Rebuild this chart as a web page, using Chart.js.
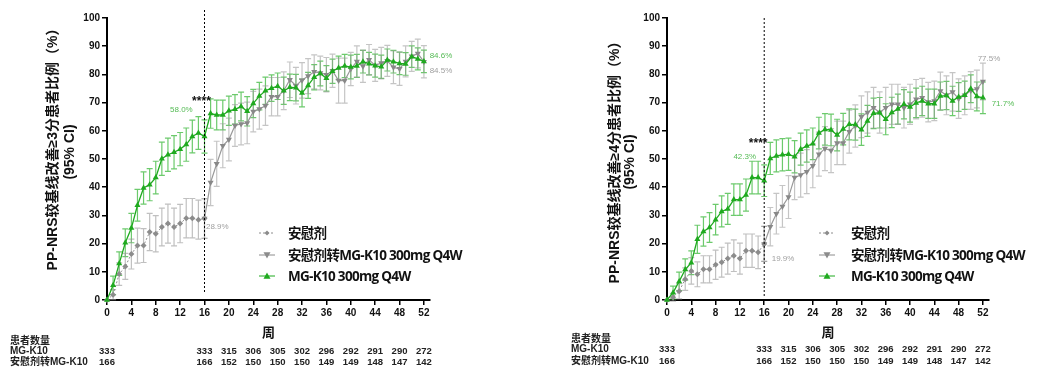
<!DOCTYPE html>
<html>
<head>
<meta charset="utf-8">
<script src="https://cdn.jsdelivr.net/npm/chart.js@4.4.0/dist/chart.umd.min.js"></script>
<style>
  html, body { margin: 0; padding: 0; background: #fff; }
  #wrap { position: relative; width: 1038px; height: 376px; overflow: hidden; }
  canvas { position: absolute; top: 0; }
</style>
</head>
<body>
<div id="wrap">
  <canvas id="chart3" width="520" height="376" style="left:0"></canvas>
  <canvas id="chart4" width="518" height="376" style="left:520px"></canvas>
</div>
<script>
// weeks
const weeksPlacebo = [0,1,2,3,4,5,6,7,8,9,10,11,12,13,14,15,16];
const weeksSwitch = [16,17,18,19,20,21,22,23,24,25,26,27,28,29,30,31,32,33,34,35,36,37,38,39,40,41,42,43,44,45,46,47,48,49,50,51,52];
const weeksAll = [0,1,2,3,4,5,6,7,8,9,10,11,12,13,14,15,16,17,18,19,20,21,22,23,24,25,26,27,28,29,30,31,32,33,34,35,36,37,38,39,40,41,42,43,44,45,46,47,48,49,50,51,52];
const xTicks = [0,4,8,12,16,20,24,28,32,36,40,44,48,52];

// number at risk table
const tableWeeks = [0,16,20,24,28,32,36,40,44,48,52];
const nMG = [333,333,315,306,305,302,296,292,291,290,272];
const nSwitch = [166,166,152,150,150,150,149,149,148,147,142];

// left panel: >=3 point improvement (%)
const mg3 = [0,5.2,12.9,20.3,25.5,33.6,39.7,40.9,43.4,50.1,51.5,52.4,53.5,55.1,58.0,59.2,58.0,66.1,65.6,65.6,67.1,67.6,68.6,66.9,69.7,72.3,74.2,75.1,75.8,74.2,75.4,75.3,73.4,76.1,79.0,80.3,78.6,81.1,82.3,83.0,82.6,83.0,84.5,83.8,83.1,82.7,85.1,84.5,83.9,83.7,86.3,85.5,84.6];
const mg3Ci = [0,3.3,4.2,4.9,5.2,5.6,5.7,5.7,5.8,5.9,5.9,5.9,5.9,5.9,5.8,5.8,5.9,5.2,5.3,5.3,5.2,5.2,5.1,5.2,5.0,4.9,4.8,4.7,4.7,4.8,4.7,4.7,4.9,4.6,4.5,4.4,4.5,4.3,4.2,4.1,4.2,4.1,4.0,4.0,4.1,4.1,3.9,4.0,4.0,4.0,3.8,3.9,4.0];
const placebo3 = [0,1.9,9.2,11.9,16.3,19.3,19.3,24.1,23.5,25.9,27.1,25.9,27.1,29.0,29.0,28.5,28.9];
const placebo3Ci = [0,1.8,4.0,4.6,5.3,6.2,6.0,6.6,6.4,6.7,6.9,6.7,6.8,7.0,7.0,6.9,7.0];
const switch3 = [28.9,41.7,48.3,54.7,56.9,61.9,62.4,62.8,66.8,67.7,68.9,72.1,72.1,74.2,78.1,76.0,77.9,79.4,80.9,80.5,79.9,81.3,77.8,77.8,81.9,84.6,82.9,85.2,83.2,84.0,84.8,82.5,82.0,84.6,86.4,87.4,84.5];
const switch3Ci = [7.0,8.2,8.0,7.8,7.6,7.4,7.4,7.4,7.2,7.1,7.0,6.8,6.8,6.7,6.3,6.5,6.3,6.2,6.0,6.0,6.1,5.9,8.0,8.0,5.9,5.5,5.7,5.4,5.7,5.6,5.5,5.8,5.9,5.5,5.3,5.1,5.7];

// right panel: >=4 point improvement (%)
const mg4 = [0,2.6,6.6,10.8,13.2,21.5,24.3,25.7,28.5,31.4,32.3,35.6,35.6,37.2,43.4,43.4,42.3,50.2,51.1,51.5,51.7,50.8,53.5,54.6,55.4,59.2,60.5,60.3,58.5,60.6,62.3,62.2,60.4,63.5,66.2,66.4,64.1,66.5,67.7,69.4,68.4,69.9,70.6,69.6,69.6,72.3,72.5,70.6,72.0,72.6,74.9,72.2,71.7];
const mg4Ci = [0,2.3,3.3,3.8,4.2,5.0,5.2,5.3,5.4,5.5,5.5,5.6,5.6,5.7,5.8,5.8,5.6,5.7,5.7,5.7,5.7,5.7,5.7,5.7,5.6,5.6,5.6,5.6,5.6,5.6,5.5,5.5,5.6,5.5,5.4,5.4,5.5,5.4,5.3,5.2,5.3,5.2,5.2,5.2,5.2,5.0,5.0,5.2,5.1,5.0,4.9,5.1,5.6];
const placebo4 = [0,1.0,3.1,7.4,10.3,9.1,10.9,10.9,12.5,13.4,14.7,15.7,14.7,17.5,17.5,16.9,19.9];
const placebo4Ci = [0,1.4,2.7,4.0,4.7,4.4,4.8,4.8,5.2,5.3,5.5,5.6,5.5,5.9,5.9,5.8,6.2];
const switch4 = [19.9,26.0,30.6,33.2,36.5,43.4,44.3,45.5,47.6,51.7,53.7,53.0,55.7,55.7,59.7,61.7,65.0,66.5,68.2,66.5,68.2,69.4,69.4,68.2,69.4,71.2,71.7,70.2,70.6,74.1,72.6,73.8,71.4,72.6,74.3,74.8,77.5];
const switch4Ci = [6.2,6.8,7.2,7.4,7.6,7.8,7.8,7.8,7.8,7.8,7.8,7.8,7.7,7.7,7.6,7.5,7.4,7.3,7.2,7.3,7.2,7.1,7.1,7.2,7.1,7.0,6.9,7.0,7.0,6.7,6.9,6.8,7.0,6.9,6.7,6.7,6.5];

const tickFont = '"Liberation Sans", Arial, "Noto Sans CJK SC", sans-serif';
const cjkFont = '"Open Sans", "Noto Sans CJK SC", sans-serif';
const GREEN = '#1faa1f';
const GREY = '#8c8c8c';

function toPoints(xs, ys) {
  return ys.map((v, i) => ({ x: xs[i], y: v }));
}

function drawMarker(ctx, style, x, y, r, color) {
  ctx.save();
  ctx.fillStyle = color;
  ctx.beginPath();
  if (style === 'rectRot') {
    ctx.moveTo(x, y - r); ctx.lineTo(x + r, y); ctx.lineTo(x, y + r); ctx.lineTo(x - r, y);
  } else if (style === 'up') {
    ctx.moveTo(x, y - r); ctx.lineTo(x + r, y + r * 0.8); ctx.lineTo(x - r, y + r * 0.8);
  } else {
    ctx.moveTo(x, y + r); ctx.lineTo(x + r, y - r * 0.8); ctx.lineTo(x - r, y - r * 0.8);
  }
  ctx.closePath();
  ctx.fill();
  ctx.restore();
}

const errorBars = {
  id: 'errorBars',
  beforeDatasetsDraw(chart) {
    const { ctx, scales: { x, y } } = chart;
    chart.data.datasets.forEach(ds => {
      if (!ds.ci) return;
      ctx.save();
      ctx.strokeStyle = ds.ciColor;
      ctx.lineWidth = 1.2;
      ds.data.forEach((pt, j) => {
        const h = ds.ci[j];
        if (!h) return;
        const px = x.getPixelForValue(pt.x);
        const t = y.getPixelForValue(pt.y + h);
        const b = y.getPixelForValue(pt.y - h);
        ctx.beginPath();
        ctx.moveTo(px, t); ctx.lineTo(px, b);
        ctx.moveTo(px - 3, t); ctx.lineTo(px + 3, t);
        ctx.moveTo(px - 3, b); ctx.lineTo(px + 3, b);
        ctx.stroke();
      });
      ctx.restore();
    });
  }
};

function makeDeco(p) {
  return {
    id: 'deco',
    afterDraw(chart) {
      const { ctx, scales: { x, y }, chartArea } = chart;
      ctx.save();
      // week 16 dashed line
      const x16 = x.getPixelForValue(16);
      ctx.strokeStyle = '#000';
      ctx.lineWidth = 1;
      ctx.setLineDash([2, 2]);
      ctx.beginPath();
      ctx.moveTo(x16, chartArea.top + p.dashTop);
      ctx.lineTo(x16, chartArea.bottom - p.dashBottom);
      ctx.stroke();
      ctx.setLineDash([]);

      // labels on the plot
      ctx.textAlign = 'center';
      ctx.textBaseline = 'middle';
      p.notes.forEach(n => {
        ctx.font = n.font;
        ctx.fillStyle = n.color;
        ctx.fillText(n.text, x.getPixelForValue(n.wk), y.getPixelForValue(n.val));
      });

      // y title
      ctx.fillStyle = '#111';
      ctx.font = 'bold 14px ' + tickFont;
      p.yTitle.forEach(t => {
        ctx.save();
        ctx.translate(t.x, t.y);
        ctx.rotate(-Math.PI / 2);
        ctx.fillText(t.text, 0, 0);
        ctx.restore();
      });

      // legend
      const items = [
        { text: '安慰剂', color: GREY, style: 'rectRot', dash: [2, 2], r: 2.5 },
        { text: '安慰剂转MG-K10 300mg Q4W', color: GREY, style: 'down', dash: [], r: 3.5 },
        { text: 'MG-K10 300mg Q4W', color: GREEN, style: 'up', dash: [], r: 3.5 }
      ];
      items.forEach((it, i) => {
        const ly = p.legend.y[i];
        ctx.strokeStyle = it.color;
        ctx.lineWidth = 1;
        ctx.setLineDash(it.dash);
        ctx.beginPath();
        ctx.moveTo(p.legend.x - 8, ly);
        ctx.lineTo(p.legend.x + 8, ly);
        ctx.stroke();
        ctx.setLineDash([]);
        drawMarker(ctx, it.style, p.legend.x, ly, it.r, it.color);
        ctx.save();
        ctx.fillStyle = '#111';
        ctx.font = 'bold 13.5px ' + cjkFont;
        ctx.letterSpacing = '-0.7px';
        ctx.textAlign = 'left';
        ctx.fillText(it.text, p.legend.textX, ly + 1);
        ctx.restore();
      });

      // number at risk
      ctx.fillStyle = '#222';
      ctx.textAlign = 'left';
      ctx.font = 'bold 10px ' + tickFont;
      ctx.fillText('患者数量', p.table.x, p.table.y[0]);
      ctx.fillText('MG-K10', p.table.x, p.table.y[1]);
      ctx.fillText('安慰剂转MG-K10', p.table.x, p.table.y[2]);
      ctx.textAlign = 'center';
      ctx.font = 'bold 9.5px ' + tickFont;
      tableWeeks.forEach((w, i) => {
        const px = x.getPixelForValue(w);
        ctx.fillText(String(nMG[i]), px, p.table.y[1]);
        ctx.fillText(String(nSwitch[i]), px, p.table.y[2]);
      });
      ctx.restore();
    }
  };
}

function buildChart(id, p) {
  const datasets = [
    {
      label: 'MG-K10 300mg Q4W',
      data: toPoints(weeksAll, p.mg),
      ci: p.mgCi, ciColor: 'rgba(45,180,45,0.7)',
      borderColor: GREEN, backgroundColor: GREEN, borderWidth: 1.3,
      pointStyle: 'triangle', pointRadius: 3.5, pointBorderWidth: 0,
      order: 0, clip: false
    },
    {
      label: '安慰剂转MG-K10 300mg Q4W',
      data: toPoints(weeksSwitch, p.sw),
      ci: p.swCi, ciColor: 'rgba(150,150,150,0.55)',
      borderColor: '#999', backgroundColor: '#888', borderWidth: 1.2,
      pointStyle: 'triangle', pointRotation: 180, pointRadius: 3.5, pointBorderWidth: 0,
      order: 1, clip: false
    },
    {
      label: '安慰剂',
      data: toPoints(weeksPlacebo, p.pl),
      ci: p.plCi, ciColor: 'rgba(150,150,150,0.6)',
      borderColor: GREY, backgroundColor: GREY, borderWidth: 1, borderDash: [2, 2],
      pointStyle: 'rectRot', pointRadius: 3, pointBorderWidth: 0,
      order: 2, clip: false
    }
  ];

  return new Chart(document.getElementById(id), {
    type: 'line',
    data: { datasets },
    options: {
      responsive: false,
      animation: false,
      devicePixelRatio: 1,
      layout: { padding: { left: 0, right: p.padRight, top: 18, bottom: 34 } },
      plugins: { legend: { display: false }, tooltip: { enabled: false } },
      scales: {
        x: {
          type: 'linear', min: 0, max: 53,
          afterFit: s => { s.height = 42; },
          afterBuildTicks: s => { s.ticks = xTicks.map(v => ({ value: v })); },
          grid: { display: true, drawOnChartArea: false, drawTicks: true, tickLength: 5, color: '#000', lineWidth: 1.5 },
          border: { display: true, color: '#000', width: 2 },
          ticks: { padding: 2, color: '#111', font: { family: tickFont, size: 10, weight: 'bold' }, maxRotation: 0, autoSkip: false },
          title: { display: true, text: '周', color: '#111', font: { family: cjkFont, size: 13, weight: 'bold' }, padding: { top: 0, bottom: 1 } }
        },
        y: {
          min: 0, max: 100,
          afterFit: s => { s.width = p.axisX; },
          grid: { display: true, drawOnChartArea: false, drawTicks: true, tickLength: 5, color: '#000', lineWidth: 1.5 },
          border: { display: true, color: '#000', width: 2 },
          ticks: { stepSize: 10, padding: 2, color: '#111', font: { family: tickFont, size: 10, weight: 'bold' } }
        }
      }
    },
    plugins: [errorBars, makeDeco(p)]
  });
}

buildChart('chart3', {
  mg: mg3, mgCi: mg3Ci, pl: placebo3, plCi: placebo3Ci, sw: switch3, swCi: switch3Ci,
  axisX: 107, padRight: 90,
  dashTop: -8, dashBottom: 7,
  yTitle: [
    { text: 'PP-NRS较基线改善≥3分患者比例（%）', x: 53, y: 146 },
    { text: '(95% CI)', x: 70, y: 152 }
  ],
  notes: [
    { text: '****', wk: 15.5, val: 70.2, color: '#111', font: 'bold 12px ' + tickFont },
    { text: '58.0%', wk: 12.2, val: 67.4, color: '#55bb55', font: '8px ' + tickFont },
    { text: '28.9%', wk: 18.1, val: 25.9, color: '#a0a0a0', font: '8px ' + tickFont },
    { text: '84.6%', wk: 54.8, val: 86.5, color: '#55bb55', font: '8px ' + tickFont },
    { text: '84.5%', wk: 54.8, val: 81.2, color: '#a0a0a0', font: '8px ' + tickFont }
  ],
  legend: { x: 267, textX: 288, y: [233, 255, 276] },
  table: { x: 10, y: [341, 351, 362] }
});

buildChart('chart4', {
  mg: mg4, mgCi: mg4Ci, pl: placebo4, plCi: placebo4Ci, sw: switch4, swCi: switch4Ci,
  axisX: 147, padRight: 49,
  dashTop: 0, dashBottom: 3,
  yTitle: [
    { text: 'PP-NRS较基线改善≥4分患者比例（%）', x: 95, y: 159 },
    { text: '(95% CI)', x: 110, y: 162 }
  ],
  notes: [
    { text: '****', wk: 15.0, val: 55.6, color: '#111', font: 'bold 12px ' + tickFont },
    { text: '42.3%', wk: 12.8, val: 50.7, color: '#55bb55', font: '8px ' + tickFont },
    { text: '19.9%', wk: 19.1, val: 14.5, color: '#a0a0a0', font: '8px ' + tickFont },
    { text: '77.5%', wk: 53.0, val: 85.5, color: '#a0a0a0', font: '8px ' + tickFont },
    { text: '71.7%', wk: 55.3, val: 69.5, color: '#55bb55', font: '8px ' + tickFont }
  ],
  legend: { x: 307, textX: 331, y: [233, 255, 276] },
  table: { x: 51, y: [339, 349, 361] }
});
</script>
</body>
</html>
